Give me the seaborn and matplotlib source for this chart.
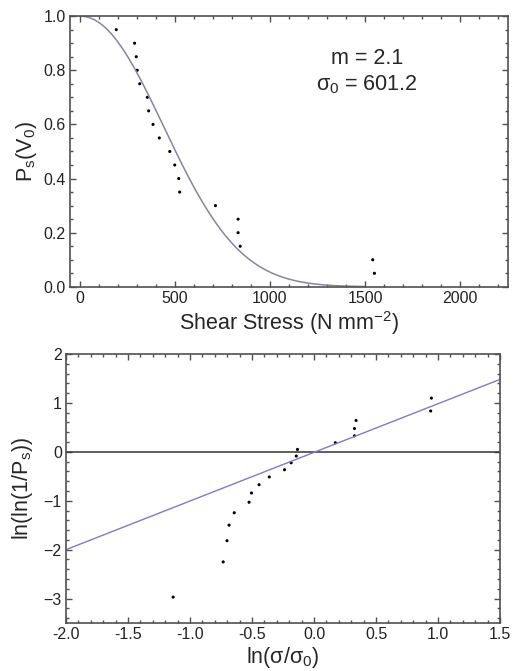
"""Weibull plot of shear strength: survival probability and linearised form."""

import matplotlib
matplotlib.use("Agg")
import matplotlib.pyplot as plt
import numpy as np
import pandas as pd
import seaborn as sns
from matplotlib.ticker import FormatStrFormatter, MultipleLocator

# shear stress (N mm^-2) and survival probability
STRESS = [193, 289, 298, 303, 316, 356, 363, 386, 419, 474, 500, 521, 526,
          714, 833, 833, 844, 1540, 1549]
PROB = [0.95, 0.90, 0.85, 0.80, 0.75, 0.70, 0.65, 0.60, 0.55, 0.50, 0.45,
        0.40, 0.35, 0.30, 0.25, 0.20, 0.15, 0.10, 0.05]

# fitted Weibull parameters shown on the chart
M = 2.1
SIGMA0 = 601.2
CURVE_X = np.linspace(0, 1500, 301)

# fitted line of the lower panel (end points)
FIT_X = [-2.0, 1.5]
FIT_Y = [-2.0, 1.48]

CURVE_COLOR = "#8585a3"
FIT_COLOR = "#7b7bcc"
SPINE_COLOR = "#505050"
BIG = 15.5

sns.set_style("ticks")
plt.rcParams["font.family"] = ["Liberation Sans", "DejaVu Sans"]
plt.rcParams["mathtext.default"] = "regular"

df = pd.DataFrame({"stress": STRESS, "p": PROB})
df["x"] = np.log(df["stress"] / SIGMA0)
df["y"] = np.log(np.log(1 / df["p"]))
curve = pd.DataFrame({"x": CURVE_X, "p": np.exp(-(CURVE_X / SIGMA0) ** M)})
fit = pd.DataFrame({"x": FIT_X, "y": FIT_Y})

fig = plt.figure(figsize=(5.13, 6.71), dpi=100)
ax1 = fig.add_axes([0.1365, 0.5725, 0.8535, 0.4035])
ax2 = fig.add_axes([0.1287, 0.0715, 0.846, 0.401])

# top: survival probability
sns.lineplot(data=curve, x="x", y="p", color=CURVE_COLOR, lw=1.1, ax=ax1)
sns.scatterplot(data=df, x="stress", y="p", color="black", s=5,
                edgecolor="none", ax=ax1)
ax1.set_xlim(-50, 2250)
ax1.set_ylim(0, 1.0)
ax1.xaxis.set_major_locator(MultipleLocator(500))
ax1.xaxis.set_minor_locator(MultipleLocator(100))
ax1.yaxis.set_major_locator(MultipleLocator(0.2))
ax1.yaxis.set_minor_locator(MultipleLocator(0.05))
ax1.yaxis.set_major_formatter(FormatStrFormatter("%.1f"))
ax1.set_xlabel("Shear Stress (N mm$^{-2}$)", fontsize=BIG, labelpad=2)
ax1.set_ylabel("P$_s$(V$_0$)", fontsize=BIG, labelpad=3)
ax1.text(1510, 0.845, f"m = {M}", fontsize=BIG, ha="center", va="center")
ax1.text(1510, 0.745, f"σ$_0$ = {SIGMA0}", fontsize=BIG, ha="center",
         va="center")

# bottom: linearised Weibull plot
ax2.axhline(0, color="#333333", lw=1.1)
sns.lineplot(data=fit, x="x", y="y", color=FIT_COLOR, lw=1.0, ax=ax2)
sns.scatterplot(data=df, x="x", y="y", color="black", s=5,
                edgecolor="none", ax=ax2)
ax2.set_xlim(-2.0, 1.5)
ax2.set_ylim(-3.5, 2.0)
ax2.xaxis.set_major_locator(MultipleLocator(0.5))
ax2.xaxis.set_minor_locator(MultipleLocator(0.1))
ax2.yaxis.set_major_locator(MultipleLocator(1))
ax2.yaxis.set_minor_locator(MultipleLocator(0.2))
ax2.xaxis.set_major_formatter(FormatStrFormatter("%.1f"))
ax2.set_xlabel("ln(σ/σ$_0$)", fontsize=BIG, labelpad=2)
ax2.set_ylabel("ln(ln(1/P$_s$))", fontsize=BIG, labelpad=6)

for ax in (ax1, ax2):
    for sp in ax.spines.values():
        sp.set_visible(True)
        sp.set_color(SPINE_COLOR)
        sp.set_linewidth(1.2)
    ax.tick_params(which="both", direction="in", top=True, right=True,
                   color=SPINE_COLOR, labelcolor="#222222", labelsize=11.5,
                   pad=3, width=1.0)
    ax.tick_params(which="major", length=4.5)
    ax.tick_params(which="minor", length=2.5)

fig.savefig("out.png", dpi=100)
plt.close(fig)
